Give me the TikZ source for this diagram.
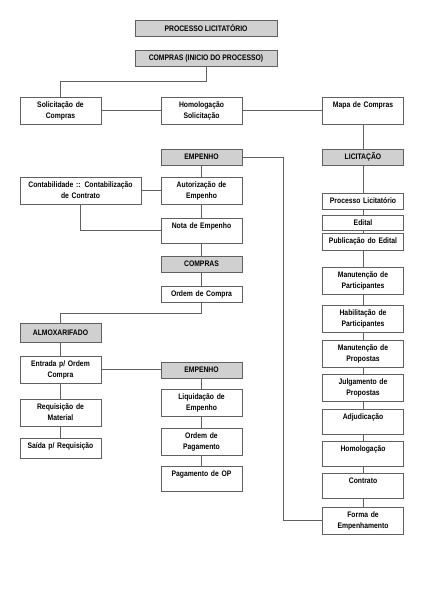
\documentclass[tikz,border=0pt]{standalone}
\usepackage{fontspec}
\setmainfont{Liberation Sans}[FakeStretch=0.85]
\usepackage{tikz}
\usetikzlibrary{positioning}
\definecolor{boxline}{HTML}{606060}
\definecolor{hdrgray}{HTML}{D0D0D0}
\tikzset{
% white step boxes, text at the top
box/.style={rectangle, draw=boxline, fill=white, anchor=north,
  align=center, text width=77pt, inner xsep=2pt, inner ysep=4pt,
  text height=6pt},
tall/.style={box, text depth=13pt},
mid/.style={box, text depth=11pt},
short/.style={box, text depth=2pt},
% gray section headers
hdr/.style={rectangle, draw=boxline, fill=hdrgray, anchor=north,
  minimum width=81pt, minimum height=16pt, inner sep=0pt}
}

\begin{document}
\begin{tikzpicture}[x=1pt, y=-1pt, draw=boxline, line width=0.7pt, outer sep=0,
  font=\fontsize{8}{11}\selectfont\bfseries]
  \useasboundingbox (0,0) rectangle (423,599);

  \node[hdr, minimum width=142pt] (proclic) at (206,20) {PROCESSO LICITATÓRIO};
  \node[hdr, minimum width=142pt] (inicio) at (206,50) {COMPRAS (INICIO DO PROCESSO)};

  \node[tall] (solic) at (60.5,97) {Solicitação de\\Compras};
  \node[tall] (homsol) at (201.5,97) {Homologação\\Solicitação};
  \node[tall] (mapa) at (363,97) {Mapa de Compras};

  % empenho branch
  \node[hdr] (emp1) at (201.5,149) {EMPENHO};
  \node[tall, text width=117pt] (contab) at (80.5,177) {Contabilidade :: Contabilização\\de Contrato};
  \node[tall] (autor) at (201.5,177) {Autorização de\\Empenho};
  \node[mid] (nota) at (201.5,218) {Nota de Empenho};
  \node[hdr] (comp2) at (201.5,256) {COMPRAS};
  \node[short] (ordem) at (201.5,286) {Ordem de Compra};

  % almoxarifado branch
  \node[hdr, minimum height=19pt] (almox) at (60.5,323) {ALMOXARIFADO};
  \node[tall] (entrada) at (60.5,356) {Entrada p/ Ordem\\Compra};
  \node[tall] (requis) at (60.5,399) {Requisição de\\Material};
  \node[box, text depth=6pt] (saida) at (60.5,438) {Saída p/ Requisição};

  \node[hdr] (emp2) at (201.5,362) {EMPENHO};
  \node[tall] (liquid) at (201.5,389) {Liquidação de\\Empenho};
  \node[tall] (ordpag) at (201.5,428) {Ordem de\\Pagamento};
  \node[mid] (pagop) at (201.5,466) {Pagamento de OP};

  % licitacao branch
  \node[hdr] (licit) at (363,149) {LICITAÇÃO};
  \node[short] (proc) at (363,193) {Processo Licitatório};
  \node[box, text depth=1pt] (edital) at (363,215) {Edital};
  \node[box, text depth=3pt] (pub) at (363,233) {Publicação do Edital};
  \node[tall] (manpart) at (363,267) {Manutenção de\\Participantes};
  \node[tall] (habil) at (363,305) {Habilitação de\\Participantes};
  \node[tall] (manprop) at (363,340) {Manutenção de\\Propostas};
  \node[tall] (julg) at (363,374) {Julgamento de\\Propostas};
  \node[mid] (adj) at (363,409) {Adjudicação};
  \node[mid] (homo) at (363,441) {Homologação};
  \node[mid] (contr) at (363,473) {Contrato};
  \node[tall] (forma) at (363,507) {Forma de\\Empenhamento};

  \coordinate (cross1) at (283,0);

  \draw (inicio.south) -- ++(0,15) -| (solic.north);
  \draw (solic.east) -- (homsol.west);
  \draw (homsol.east) -- (mapa.west);
  \draw (mapa.south) -- (licit.north);

  \draw (emp1.south) -- (autor.north);
  \draw (autor.south) -- (nota.north);
  \draw (nota.south) -- (comp2.north);
  \draw (comp2.south) -- (ordem.north);
  \draw (contab.east) -- (autor.west);
  \draw (contab.south) |- (nota.west);
  \draw (emp1.east) -- (emp1.east -| cross1) |- (forma.west);

  \draw (ordem.south) -- ++(0,11) -| (almox.north);
  \draw (almox.south) -- (entrada.north);
  \draw (entrada.south) -- (requis.north);
  \draw (requis.south) -- (saida.north);
  \draw (entrada.east) -- (entrada.east -| emp2.west);
  \draw (emp2.south) -- (liquid.north);
  \draw (liquid.south) -- (ordpag.north);
  \draw (ordpag.south) -- (pagop.north);

  \draw (licit.south) -- (proc.north);
  \draw (proc.south) -- (edital.north);
  \draw (edital.south) -- (pub.north);
  \draw (pub.south) -- (manpart.north);
  \draw (manpart.south) -- (habil.north);
  \draw (habil.south) -- (manprop.north);
  \draw (manprop.south) -- (julg.north);
  \draw (julg.south) -- (adj.north);
  \draw (adj.south) -- (homo.north);
  \draw (homo.south) -- (contr.north);
  \draw (contr.south) -- (forma.north);
\end{tikzpicture}
\end{document}
